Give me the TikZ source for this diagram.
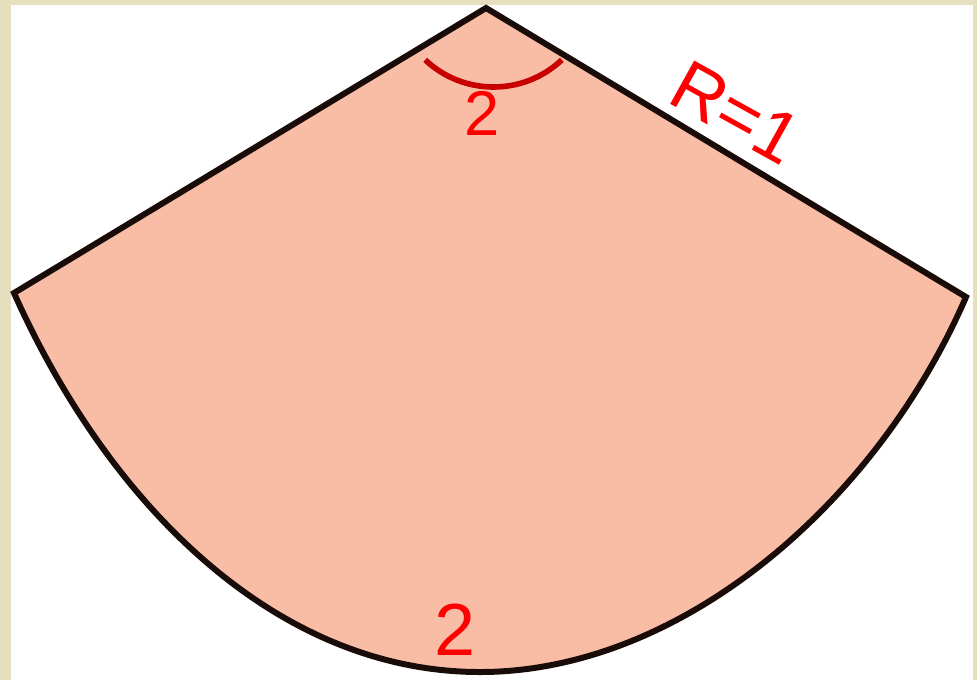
\documentclass[tikz,border=0pt]{standalone}
\usepackage{fontspec}
\setmainfont{Liberation Sans}
\definecolor{beige}{RGB}{229,223,190}
\definecolor{sector}{RGB}{249,189,166}
\definecolor{edge}{RGB}{25,12,8}
\definecolor{anglearc}{RGB}{200,0,0}
\definecolor{lbl}{RGB}{255,0,0}
\tikzset{
  lbltext/.style={text=lbl, inner sep=0pt, anchor=base},
}
\begin{document}
\begin{tikzpicture}
\useasboundingbox (0,0) rectangle (9.77,6.80);
\fill[beige] (0,0) rectangle (9.77,6.80);
\fill[white] (0.11,0) rectangle (9.73,6.75);
\coordinate (O) at (4.86,6.72);
\coordinate (L) at (0.14,3.87);
\coordinate (R) at (9.66,3.83);
\coordinate (B) at (4.80,0.08);
\filldraw[fill=sector, draw=edge, line width=1.7pt, line join=miter]
  (O) -- (L) .. controls (1.115,1.695) and (2.80,0.08) .. (B)
  .. controls (6.80,0.08) and (8.76,1.755) .. (R) -- cycle;
\draw[anglearc, line width=1.6pt] (4.935,6.926) ++(226.7:0.996) arc[start angle=226.7, end angle=313.3, radius=0.996];
\node[lbltext, font=\fontsize{18}{20}\selectfont] (a) at (4.82,5.45) {2};
\node[lbltext, font=\fontsize{21}{24}\selectfont] (b) at (4.55,0.25) {2};
\node[lbltext, font=\fontsize{20.5}{24}\selectfont, rotate=-29] (r) at (7.24,5.46) {R=1};
\end{tikzpicture}
\end{document}
